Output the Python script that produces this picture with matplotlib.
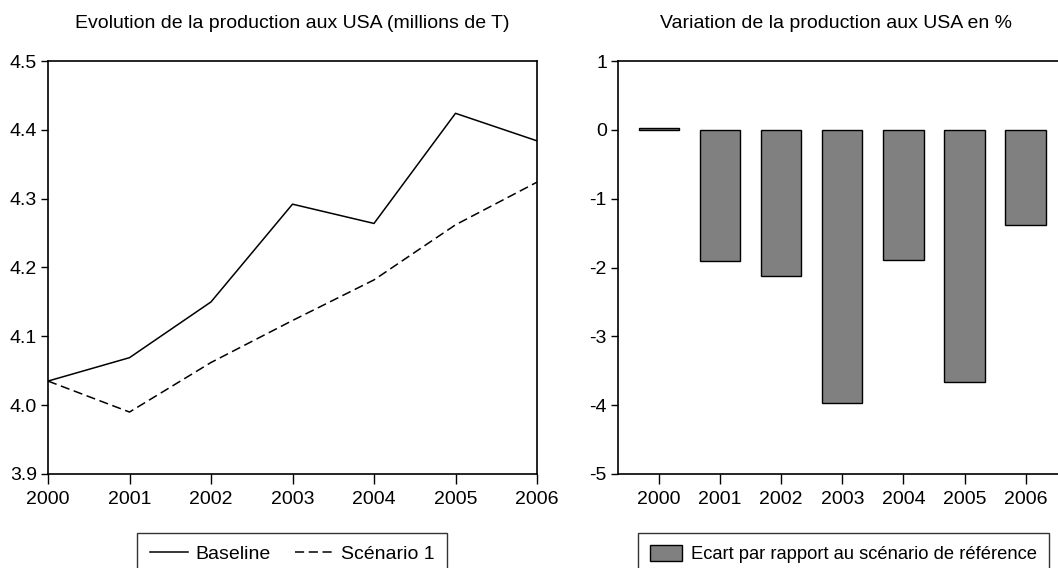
import matplotlib
matplotlib.use("Agg")
import matplotlib.pyplot as plt
from matplotlib import font_manager
import numpy as np

years = [2000, 2001, 2002, 2003, 2004, 2005, 2006]
year_labels = ["2000", "2001", "2002", "2003", "2004", "2005", "2006"]
baseline = [4.035, 4.069, 4.150, 4.292, 4.264, 4.424, 4.384]
scenario1 = [4.035, 3.990, 4.062, 4.123, 4.182, 4.262, 4.324]
ecart = [0.02, -1.91, -2.12, -3.97, -1.89, -3.67, -1.38]

names = {f.name for f in font_manager.fontManager.ttflist}
fam = "Liberation Sans Narrow" if "Liberation Sans Narrow" in names else "Liberation Sans"
plt.rcParams['font.family'] = [fam, 'DejaVu Sans']

W, H = 1058, 568
fig = plt.figure(figsize=(W / 100, H / 100), dpi=100)

def box(l, t, r, b):
    return [l / W, (H - b) / H, (r - l) / W, (b - t) / H]

tick_fs = 14
title_fs = 14

def style_ticks(ax):
    ax.tick_params(axis="x", direction="out", length=7, width=1, labelsize=tick_fs, pad=5)
    ax.tick_params(axis="y", direction="out", length=5, width=1, labelsize=tick_fs, pad=3)

# Left chart
ax1 = fig.add_axes(box(48, 61, 537, 474))
ax1.plot(years, baseline, color="black", lw=1.1, label="Baseline")
ax1.plot(years, scenario1, color="black", lw=1.1, ls=(0, (6, 3)), label="Scénario 1")
ax1.set_xlim(2000, 2006)
ax1.set_ylim(3.9, 4.5)
ax1.set_xticks(years)
ax1.set_xticklabels(year_labels)
ax1.set_yticks([3.9, 4.0, 4.1, 4.2, 4.3, 4.4, 4.5])
ax1.set_yticklabels(["3.9", "4.0", "4.1", "4.2", "4.3", "4.4", "4.5"])
style_ticks(ax1)
for s in ax1.spines.values():
    s.set_linewidth(1.2)
fig.text(292 / W, 1 - 23 / H, "Evolution de la production aux USA (millions de T)",
         ha="center", va="center", fontsize=title_fs)
h1, l1 = ax1.get_legend_handles_labels()
leg1 = fig.legend(h1, l1, loc="upper center", bbox_to_anchor=(292 / W, 1 - 533 / H),
                  ncol=2, frameon=True, fancybox=False, edgecolor="black",
                  fontsize=tick_fs, handlelength=1.95, columnspacing=1.3,
                  borderpad=0.65, handletextpad=0.38, borderaxespad=0)
leg1.get_frame().set_linewidth(1.0)

# Right chart
ax2 = fig.add_axes(box(618, 61, 1066, 474))
x = np.arange(len(years))
ax2.bar(x, ecart, width=0.66, color="#808080", edgecolor="black", lw=1.0,
        label="Ecart par rapport au scénario de référence")
ax2.set_xlim(-0.67, 6.66)
ax2.set_ylim(-5, 1)
ax2.set_xticks(x)
ax2.set_xticklabels(year_labels)
ax2.set_yticks([-5, -4, -3, -2, -1, 0, 1])
ax2.set_yticklabels(["-5", "-4", "-3", "-2", "-1", "0", "1"])
style_ticks(ax2)
ax2.spines["right"].set_visible(False)
for s in ax2.spines.values():
    s.set_linewidth(1.2)
fig.text(836 / W, 1 - 23 / H, "Variation de la production aux USA en %",
         ha="center", va="center", fontsize=title_fs)
h2, l2 = ax2.get_legend_handles_labels()
leg2 = fig.legend(h2, l2, loc="upper left", bbox_to_anchor=(638 / W, 1 - 533 / H),
                  frameon=True, fancybox=False, edgecolor="black",
                  fontsize=13.2, handlelength=1.75, handleheight=1.0,
                  borderpad=0.65, handletextpad=0.5, borderaxespad=0)
leg2.get_frame().set_linewidth(1.0)

fig.savefig("out.png", dpi=100)
